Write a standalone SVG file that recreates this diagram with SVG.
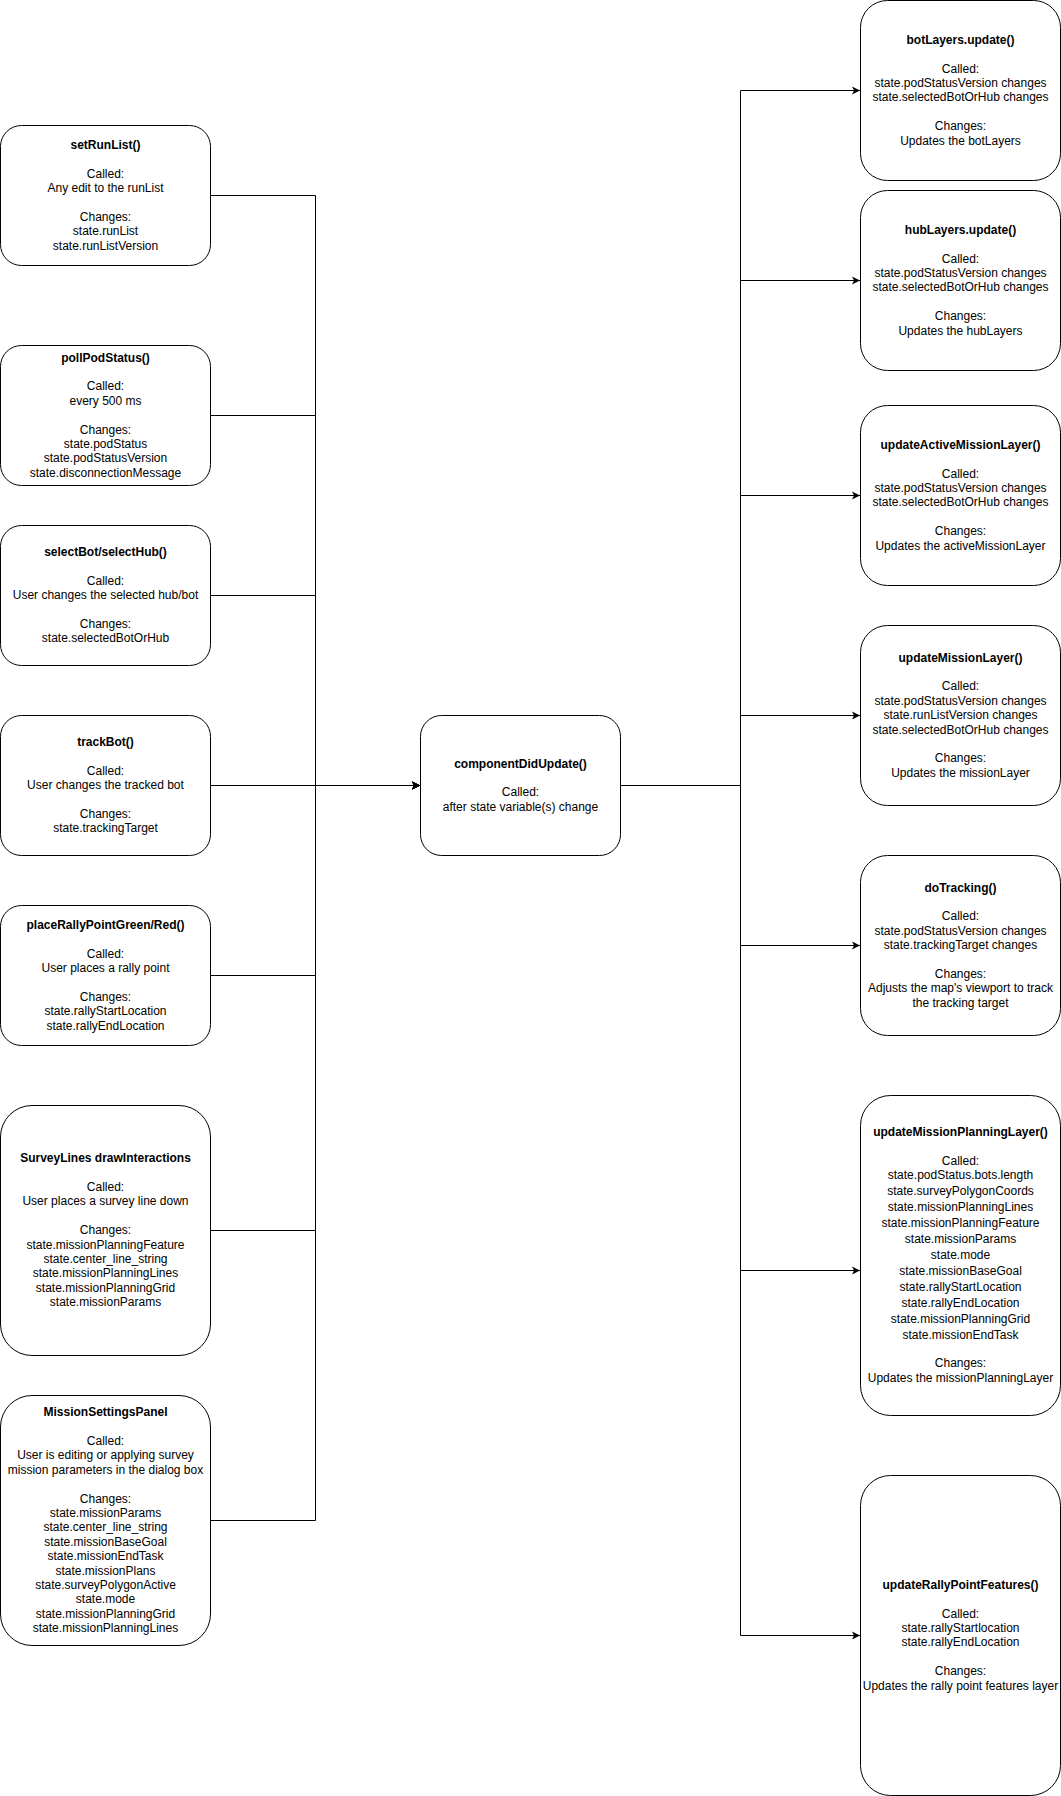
<svg xmlns="http://www.w3.org/2000/svg" width="1061" height="1796" viewBox="0 0 1061 1796">
  <style>
    .box { fill: #ffffff; stroke: #000000; stroke-width: 1; }
    .edge { fill: none; stroke: #000000; stroke-width: 1; }
    text { font-family: "Liberation Sans", Arial, Helvetica, sans-serif; font-size: 12px; fill: #000000; text-anchor: middle; }
    .title { font-weight: bold; }
  </style>
  <defs>
    <marker id="arrow" viewBox="-9 -5 10 10" markerWidth="10" markerHeight="10" refX="0" refY="0" orient="auto" markerUnits="userSpaceOnUse" overflow="visible">
      <path d="M0,0 L-8,-4 L-6,0 L-8,4 Z" fill="#000000"/>
    </marker>
  </defs>

  <!-- connectors -->
  <g id="connectors">
    <!-- state setters feed componentDidUpdate through a shared bus at x=315.5 -->
    <path id="e-setRunList" class="edge" d="M210.5,195.5 H315.5 V785.5 H420" marker-end="url(#arrow)"/>
    <path id="e-pollPodStatus" class="edge" d="M210.5,415.5 H315.5 V785.5 H420" marker-end="url(#arrow)"/>
    <path id="e-selectBot" class="edge" d="M210.5,595.5 H315.5 V785.5 H420" marker-end="url(#arrow)"/>
    <path id="e-trackBot" class="edge" d="M210.5,785.5 H420" marker-end="url(#arrow)"/>
    <path id="e-placeRally" class="edge" d="M210.5,975.5 H315.5 V785.5 H420" marker-end="url(#arrow)"/>
    <path id="e-surveyLines" class="edge" d="M210.5,1230.5 H315.5 V785.5 H420" marker-end="url(#arrow)"/>
    <path id="e-missionSettings" class="edge" d="M210.5,1520.5 H315.5 V785.5 H420" marker-end="url(#arrow)"/>
    <!-- componentDidUpdate fans out to the layer updaters through a bus at x=740.5 -->
    <path id="e-botLayers" class="edge" d="M620.5,785.5 H740.5 V90.5 H860" marker-end="url(#arrow)"/>
    <path id="e-hubLayers" class="edge" d="M620.5,785.5 H740.5 V280.5 H860" marker-end="url(#arrow)"/>
    <path id="e-activeMission" class="edge" d="M620.5,785.5 H740.5 V495.5 H860" marker-end="url(#arrow)"/>
    <path id="e-missionLayer" class="edge" d="M620.5,785.5 H740.5 V715.5 H860" marker-end="url(#arrow)"/>
    <path id="e-doTracking" class="edge" d="M620.5,785.5 H740.5 V945.5 H860" marker-end="url(#arrow)"/>
    <path id="e-missionPlanning" class="edge" d="M620.5,785.5 H740.5 V1270.5 H860" marker-end="url(#arrow)"/>
    <path id="e-rallyPoints" class="edge" d="M620.5,785.5 H740.5 V1635.5 H860" marker-end="url(#arrow)"/>
  </g>

  <!-- left column: functions that change state -->
  <g id="setRunList">
    <rect class="box" x="0.5" y="125.5" width="210" height="140" rx="21" ry="21"/>
    <text x="105.5" y="148.8"><tspan class="title">setRunList()</tspan><tspan x="105.5" dy="28.8">Called:</tspan><tspan x="105.5" dy="14.4">Any edit to the runList</tspan><tspan x="105.5" dy="28.8">Changes:</tspan><tspan x="105.5" dy="14.4">state.runList</tspan><tspan x="105.5" dy="14.4">state.runListVersion</tspan></text>
  </g>

  <g id="pollPodStatus">
    <rect class="box" x="0.5" y="345.5" width="210" height="140" rx="21" ry="21"/>
    <text x="105.5" y="361.6"><tspan class="title">pollPodStatus()</tspan><tspan x="105.5" dy="28.8">Called:</tspan><tspan x="105.5" dy="14.4">every 500 ms</tspan><tspan x="105.5" dy="28.8">Changes:</tspan><tspan x="105.5" dy="14.4">state.podStatus</tspan><tspan x="105.5" dy="14.4">state.podStatusVersion</tspan><tspan x="105.5" dy="14.4">state.disconnectionMessage</tspan></text>
  </g>

  <g id="selectBotHub">
    <rect class="box" x="0.5" y="525.5" width="210" height="140" rx="21" ry="21"/>
    <text x="105.5" y="556"><tspan class="title">selectBot/selectHub()</tspan><tspan x="105.5" dy="28.8">Called:</tspan><tspan x="105.5" dy="14.4">User changes the selected hub/bot</tspan><tspan x="105.5" dy="28.8">Changes:</tspan><tspan x="105.5" dy="14.4">state.selectedBotOrHub</tspan></text>
  </g>

  <g id="trackBot">
    <rect class="box" x="0.5" y="715.5" width="210" height="140" rx="21" ry="21"/>
    <text x="105.5" y="746"><tspan class="title">trackBot()</tspan><tspan x="105.5" dy="28.8">Called:</tspan><tspan x="105.5" dy="14.4">User changes the tracked bot</tspan><tspan x="105.5" dy="28.8">Changes:</tspan><tspan x="105.5" dy="14.4">state.trackingTarget</tspan></text>
  </g>

  <g id="placeRallyPoint">
    <rect class="box" x="0.5" y="905.5" width="210" height="140" rx="21" ry="21"/>
    <text x="105.5" y="928.8"><tspan class="title">placeRallyPointGreen/Red()</tspan><tspan x="105.5" dy="28.8">Called:</tspan><tspan x="105.5" dy="14.4">User places a rally point</tspan><tspan x="105.5" dy="28.8">Changes:</tspan><tspan x="105.5" dy="14.4">state.rallyStartLocation</tspan><tspan x="105.5" dy="14.4">state.rallyEndLocation</tspan></text>
  </g>

  <g id="surveyLines">
    <rect class="box" x="0.5" y="1105.5" width="210" height="250" rx="31.5" ry="31.5"/>
    <text x="105.5" y="1162.2"><tspan class="title">SurveyLines drawInteractions</tspan><tspan x="105.5" dy="28.8">Called:</tspan><tspan x="105.5" dy="14.4">User places a survey line down</tspan><tspan x="105.5" dy="28.8">Changes:</tspan><tspan x="105.5" dy="14.4">state.missionPlanningFeature</tspan><tspan x="105.5" dy="14.4">state.center_line_string</tspan><tspan x="105.5" dy="14.4">state.missionPlanningLines</tspan><tspan x="105.5" dy="14.4">state.missionPlanningGrid</tspan><tspan x="105.5" dy="14.4">state.missionParams</tspan></text>
  </g>

  <g id="missionSettingsPanel">
    <rect class="box" x="0.5" y="1395.5" width="210" height="250" rx="31.5" ry="31.5"/>
    <text x="105.5" y="1416.2"><tspan class="title">MissionSettingsPanel</tspan><tspan x="105.5" dy="28.8">Called:</tspan><tspan x="105.5" dy="14.4">User is editing or applying survey</tspan><tspan x="105.5" dy="14.4">mission parameters in the dialog box</tspan><tspan x="105.5" dy="28.8">Changes:</tspan><tspan x="105.5" dy="14.4">state.missionParams</tspan><tspan x="105.5" dy="14.4">state.center_line_string</tspan><tspan x="105.5" dy="14.4">state.missionBaseGoal</tspan><tspan x="105.5" dy="14.4">state.missionEndTask</tspan><tspan x="105.5" dy="14.4">state.missionPlans</tspan><tspan x="105.5" dy="14.4">state.surveyPolygonActive</tspan><tspan x="105.5" dy="14.4">state.mode</tspan><tspan x="105.5" dy="14.4">state.missionPlanningGrid</tspan><tspan x="105.5" dy="14.4">state.missionPlanningLines</tspan></text>
  </g>

  <!-- centre: React lifecycle hook -->
  <g id="componentDidUpdate">
    <rect class="box" x="420.5" y="715.5" width="200" height="140" rx="21" ry="21"/>
    <text x="520.5" y="767.6"><tspan class="title">componentDidUpdate()</tspan><tspan x="520.5" dy="28.8">Called:</tspan><tspan x="520.5" dy="14.4">after state variable(s) change</tspan></text>
  </g>

  <!-- right column: layer updaters -->
  <g id="botLayersUpdate">
    <rect class="box" x="860.5" y="0.5" width="200" height="180" rx="27" ry="27"/>
    <text x="960.5" y="43.8"><tspan class="title">botLayers.update()</tspan><tspan x="960.5" dy="28.8">Called:</tspan><tspan x="960.5" dy="14.4">state.podStatusVersion changes</tspan><tspan x="960.5" dy="14.4">state.selectedBotOrHub changes</tspan><tspan x="960.5" dy="28.8">Changes:</tspan><tspan x="960.5" dy="14.4">Updates the botLayers</tspan></text>
  </g>

  <g id="hubLayersUpdate">
    <rect class="box" x="860.5" y="190.5" width="200" height="180" rx="27" ry="27"/>
    <text x="960.5" y="233.8"><tspan class="title">hubLayers.update()</tspan><tspan x="960.5" dy="28.8">Called:</tspan><tspan x="960.5" dy="14.4">state.podStatusVersion changes</tspan><tspan x="960.5" dy="14.4">state.selectedBotOrHub changes</tspan><tspan x="960.5" dy="28.8">Changes:</tspan><tspan x="960.5" dy="14.4">Updates the hubLayers</tspan></text>
  </g>

  <g id="updateActiveMissionLayer">
    <rect class="box" x="860.5" y="405.5" width="200" height="180" rx="27" ry="27"/>
    <text x="960.5" y="448.8"><tspan class="title">updateActiveMissionLayer()</tspan><tspan x="960.5" dy="28.8">Called:</tspan><tspan x="960.5" dy="14.4">state.podStatusVersion changes</tspan><tspan x="960.5" dy="14.4">state.selectedBotOrHub changes</tspan><tspan x="960.5" dy="28.8">Changes:</tspan><tspan x="960.5" dy="14.4">Updates the activeMissionLayer</tspan></text>
  </g>

  <g id="updateMissionLayer">
    <rect class="box" x="860.5" y="625.5" width="200" height="180" rx="27" ry="27"/>
    <text x="960.5" y="661.6"><tspan class="title">updateMissionLayer()</tspan><tspan x="960.5" dy="28.8">Called:</tspan><tspan x="960.5" dy="14.4">state.podStatusVersion changes</tspan><tspan x="960.5" dy="14.4">state.runListVersion changes</tspan><tspan x="960.5" dy="14.4">state.selectedBotOrHub changes</tspan><tspan x="960.5" dy="28.8">Changes:</tspan><tspan x="960.5" dy="14.4">Updates the missionLayer</tspan></text>
  </g>

  <g id="doTracking">
    <rect class="box" x="860.5" y="855.5" width="200" height="180" rx="27" ry="27"/>
    <text x="960.5" y="891.6"><tspan class="title">doTracking()</tspan><tspan x="960.5" dy="28.8">Called:</tspan><tspan x="960.5" dy="14.4">state.podStatusVersion changes</tspan><tspan x="960.5" dy="14.4">state.trackingTarget changes</tspan><tspan x="960.5" dy="28.8">Changes:</tspan><tspan x="960.5" dy="14.4">Adjusts the map's viewport to track</tspan><tspan x="960.5" dy="14.4">the tracking target</tspan></text>
  </g>

  <g id="updateMissionPlanningLayer">
    <rect class="box" x="860.5" y="1095.5" width="200" height="320" rx="30" ry="30"/>
    <text x="960.5" y="1136.2"><tspan class="title">updateMissionPlanningLayer()</tspan><tspan x="960.5" dy="28.5">Called:</tspan><tspan x="960.5" dy="14">state.podStatus.bots.length</tspan><tspan x="960.5" dy="16">state.surveyPolygonCoords</tspan><tspan x="960.5" dy="16">state.missionPlanningLines</tspan><tspan x="960.5" dy="16">state.missionPlanningFeature</tspan><tspan x="960.5" dy="16">state.missionParams</tspan><tspan x="960.5" dy="16">state.mode</tspan><tspan x="960.5" dy="16">state.missionBaseGoal</tspan><tspan x="960.5" dy="16">state.rallyStartLocation</tspan><tspan x="960.5" dy="16">state.rallyEndLocation</tspan><tspan x="960.5" dy="16">state.missionPlanningGrid</tspan><tspan x="960.5" dy="16">state.missionEndTask</tspan><tspan x="960.5" dy="28.6">Changes:</tspan><tspan x="960.5" dy="14.4">Updates the missionPlanningLayer</tspan></text>
  </g>

  <g id="updateRallyPointFeatures">
    <rect class="box" x="860.5" y="1475.5" width="200" height="320" rx="30" ry="30"/>
    <text x="960.5" y="1588.8"><tspan class="title">updateRallyPointFeatures()</tspan><tspan x="960.5" dy="28.8">Called:</tspan><tspan x="960.5" dy="14.4">state.rallyStartlocation</tspan><tspan x="960.5" dy="14.4">state.rallyEndLocation</tspan><tspan x="960.5" dy="28.8">Changes:</tspan><tspan x="960.5" dy="14.4">Updates the rally point features layer</tspan></text>
  </g>
</svg>
